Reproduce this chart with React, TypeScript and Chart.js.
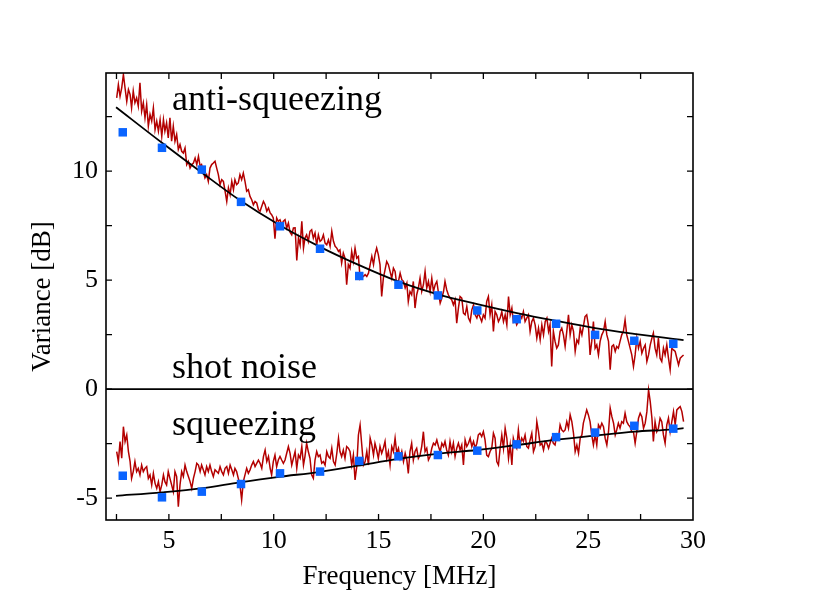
import React, { useEffect, useRef } from 'react';
import { Chart, registerables } from 'chart.js';

Chart.register(...registerables);

// Frequency grid of the measured traces (MHz)
const freq = [
  2.51, 2.59, 2.67, 2.75, 2.83, 2.91, 2.99, 3.07, 3.15, 3.22,
  3.30, 3.38, 3.46, 3.54, 3.62, 3.70, 3.78, 3.86, 3.94, 4.02,
  4.10, 4.18, 4.26, 4.34, 4.42, 4.50, 4.58, 4.66, 4.74, 4.81,
  4.89, 4.97, 5.05, 5.13, 5.21, 5.29, 5.37, 5.45, 5.53, 5.61,
  5.69, 5.77, 5.85, 5.93, 6.01, 6.09, 6.17, 6.25, 6.33, 6.41,
  6.49, 6.56, 6.64, 6.72, 6.80, 6.88, 6.96, 7.04, 7.12, 7.20,
  7.28, 7.36, 7.44, 7.52, 7.60, 7.68, 7.76, 7.84, 7.92, 8.00,
  8.08, 8.15, 8.23, 8.31, 8.39, 8.47, 8.55, 8.63, 8.71, 8.79,
  8.87, 8.95, 9.03, 9.11, 9.19, 9.27, 9.35, 9.43, 9.51, 9.59,
  9.67, 9.75, 9.83, 9.90, 9.98, 10.06, 10.14, 10.22, 10.30, 10.38,
  10.46, 10.54, 10.62, 10.70, 10.78, 10.86, 10.94, 11.02, 11.10, 11.18,
  11.26, 11.34, 11.42, 11.49, 11.57, 11.65, 11.73, 11.81, 11.89, 11.97,
  12.05, 12.13, 12.21, 12.29, 12.37, 12.45, 12.53, 12.61, 12.69, 12.77,
  12.85, 12.93, 13.01, 13.09, 13.16, 13.24, 13.32, 13.40, 13.48, 13.56,
  13.64, 13.72, 13.80, 13.88, 13.96, 14.04, 14.12, 14.20, 14.28, 14.36,
  14.44, 14.52, 14.60, 14.68, 14.76, 14.83, 14.91, 14.99, 15.07, 15.15,
  15.23, 15.31, 15.39, 15.47, 15.55, 15.63, 15.71, 15.79, 15.87, 15.95,
  16.03, 16.11, 16.19, 16.27, 16.35, 16.42, 16.50, 16.58, 16.66, 16.74,
  16.82, 16.90, 16.98, 17.06, 17.14, 17.22, 17.30, 17.38, 17.46, 17.54,
  17.62, 17.70, 17.78, 17.86, 17.94, 18.02, 18.10, 18.17, 18.25, 18.33,
  18.41, 18.49, 18.57, 18.65, 18.73, 18.81, 18.89, 18.97, 19.05, 19.13,
  19.21, 19.29, 19.37, 19.45, 19.53, 19.61, 19.69, 19.76, 19.84, 19.92,
  20.00, 20.08, 20.16, 20.24, 20.32, 20.40, 20.48, 20.56, 20.64, 20.72,
  20.80, 20.88, 20.96, 21.04, 21.12, 21.20, 21.28, 21.36, 21.43, 21.51,
  21.59, 21.67, 21.75, 21.83, 21.91, 21.99, 22.07, 22.15, 22.23, 22.31,
  22.39, 22.47, 22.55, 22.63, 22.71, 22.79, 22.87, 22.95, 23.03, 23.11,
  23.18, 23.26, 23.34, 23.42, 23.50, 23.58, 23.66, 23.74, 23.82, 23.90,
  23.98, 24.06, 24.14, 24.22, 24.30, 24.38, 24.46, 24.54, 24.62, 24.70,
  24.77, 24.85, 24.93, 25.01, 25.09, 25.17, 25.25, 25.33, 25.41, 25.49,
  25.57, 25.65, 25.73, 25.81, 25.89, 25.97, 26.05, 26.13, 26.21, 26.29,
  26.36, 26.44, 26.52, 26.60, 26.68, 26.76, 26.84, 26.92, 27.00, 27.08,
  27.16, 27.24, 27.32, 27.40, 27.48, 27.56, 27.64, 27.72, 27.80, 27.88,
  27.96, 28.04, 28.11, 28.19, 28.27, 28.35, 28.43, 28.51, 28.59, 28.67,
  28.75, 28.83, 28.91, 28.99, 29.07, 29.15, 29.23, 29.31, 29.39, 29.47,
  29.55,
];

// Measured anti-squeezing spectrum (dB)
const antiTrace = [
  13.36, 13.97, 13.43, 13.82, 14.43, 13.8, 13.2, 13.74, 13.51, 12.9,
  13.67, 13.13, 13.36, 12.98, 14.05, 12.75, 13.13, 12.44, 13.05, 12.06,
  12.6, 12.29, 12.9, 11.9, 12.29, 11.83, 12.36, 11.6, 12.36, 11.83,
  12.21, 11.52, 12.44, 11.37, 12.06, 11.37, 11.68, 10.99, 11.22, 10.91,
  10.83, 11.06, 10.3, 10.45, 10.14, 10.3, 10.37, 10.6, 10.3, 10.68,
  10.22, 10.3, 9.99, 9.69, 9.84, 9.53, 10.14, 10.3, 10.37, 10.45,
  10.14, 9.84, 9.38, 9.61, 9.53, 9.08, 8.61, 9.23, 8.92, 9.53,
  9.15, 9.61, 9.38, 9.46, 9.84, 9.61, 9.91, 9.53, 9.08, 9.15,
  8.84, 8.69, 8.46, 8.61, 8.54, 8.23, 8.16, 8.39, 8.61, 8.46,
  8.16, 8.31, 8.08, 8.0, 7.85, 6.9, 7.85, 7.7, 7.77, 7.54,
  7.7, 7.77, 7.39, 7.62, 7.2,
  7.08, 7.39, 7.4, 5.9, 6.93,
  6.6, 7.70, 6.47, 6.93, 7.08, 6.78, 7.24, 7.31, 6.93, 7.16,
  6.62, 7.08, 6.78, 6.85, 7.08, 6.70, 6.62, 6.85, 6.55, 7.24,
  6.78, 6.55, 6.47, 6.32, 6.39, 5.78, 6.24, 6.01, 4.79, 5.71,
  5.55, 6.32, 5.86, 6.47, 6.01, 6.09, 5.09, 5.25, 5.17, 5.25,
  5.17, 5.32, 5.71, 6.09, 5.71, 6.17, 6.47, 6.17, 5.71, 4.25,
  5.09, 5.47, 5.86, 5.71, 5.40, 5.09, 5.55, 5.40, 4.79, 4.94,
  5.32, 5.02, 4.94, 4.64, 4.86, 4.02, 4.48, 4.33, 4.94, 3.72,
  4.33, 4.64, 5.09, 4.48, 4.79, 5.40, 4.64, 4.94, 4.48, 5.09,
  4.48, 4.79, 4.94, 4.41, 3.95, 4.18, 4.48, 4.94, 4.56, 4.33,
  4.18, 4.10, 3.87, 4.10, 3.03, 3.72, 4.25, 4.18, 3.49, 3.41,
  3.79, 3.26, 3.10, 3.64, 3.87, 3.41, 3.26, 3.49, 3.3,
  3.10,
  3.41, 3.26, 4.02, 4.25, 3.41, 3.87, 2.65, 3.56, 3.41, 3.10,
  3.26, 3.56, 3.10, 3.41, 2.95, 4.25, 3.41, 3.72, 3.10, 3.26,
  2.95, 3.10, 3.41, 3.26, 3.56, 3.10, 3.26, 3.41, 2.65, 3.10,
  3.26, 2.95, 2.34, 2.80, 2.26, 2.95, 2.49, 3.10, 3.26, 2.65,
  2.95, 1.04, 2.65, 2.19, 1.88, 2.03, 2.65, 2.80, 2.49, 1.96,
  2.65, 3.41, 2.49, 2.95, 2.65, 1.73, 2.26, 2.11, 2.80, 2.49,
  2.87, 3.33, 3.41, 2.95, 1.57, 2.19, 3.10, 1.88, 2.03, 1.57,
  2.19, 2.49, 2.65, 3.10, 2.49, 2.19, 0.89, 1.96, 2.03, 1.73,
  1.96, 1.88, 2.19, 2.49, 2.65, 3.18, 2.49, 2.19, 1.88, 1.57,
  1.04, 1.57, 2.34, 1.88, 2.19, 1.65, 1.88, 2.03, 1.27, 1.57,
  2.03, 2.34, 2.57, 1.88, 1.57, 2.34, 1.42, 1.27, 1.88, 1.57,
  2.03, 1.42, 0.89, 1.88, 1.80, 1.73, 1.42, 1.11, 1.42, 1.50,
  1.57,
];

// Measured squeezing spectrum (dB)
const squeezeTrace = [
  -2.86, -3.32, -2.40, -3.17, -1.72, -2.40, -2.10, -2.86, -3.32, -4.09,
  -3.78, -3.32, -3.78, -3.63, -3.93, -3.48, -3.78, -3.63, -3.55, -4.09,
  -3.93, -4.39, -3.86, -4.32, -4.55, -4.24, -4.70, -4.39, -3.93, -4.24,
  -4.39, -3.78, -4.09, -4.39, -4.70, -3.78, -4.01, -5.39, -4.39, -3.78,
  -4.01, -3.48, -3.78, -4.01, -4.24, -4.55, -4.09, -3.78, -3.40, -3.48,
  -3.78, -3.48, -3.70, -3.93, -3.55, -3.78, -3.48, -3.78, -4.01, -3.70,
  -3.78, -3.86, -3.55, -3.78, -3.93, -3.63, -3.55, -3.86, -3.48, -3.70,
  -3.93, -3.63, -3.78, -4.09, -4.39, -5.08, -4.24, -3.93, -3.63, -3.86,
  -3.70, -3.48, -3.32, -3.55, -3.40, -3.25, -3.40, -3.63, -3.09, -2.79,
  -3.32, -3.09, -3.63, -3.93, -3.32, -3.02, -3.55, -3.25, -3.09, -3.25,
  -3.40, -3.25, -2.94, -2.63, -2.94,
  -3.48, -3.17, -2.86, -3.63, -3.02,
  -3.17, -2.63, -3.48, -3.09, -2.48, -2.86, -3.17, -3.93, -4.09, -3.25,
  -2.86, -3.09, -3.02, -3.40, -3.32, -3.48, -2.86, -3.09, -3.17, -2.71,
  -3.32, -3.48, -2.94, -2.25, -2.86, -3.09, -2.79, -3.17, -2.63, -2.71,
  -2.86, -3.48, -3.02, -4.16, -3.55, -2.10, -1.64, -2.56, -3.48, -3.32,
  -2.86, -3.48, -2.25, -2.56, -3.02, -2.48, -2.79, -3.17, -2.63, -2.94,
  -2.71, -2.40, -3.17, -2.86, -3.48, -2.63, -2.86, -2.25, -2.94, -2.71,
  -3.17, -2.86, -3.32, -2.94, -3.25, -3.86, -2.86, -2.48, -3.25, -2.86,
  -2.71, -3.17, -3.02, -2.63, -1.95, -2.86, -2.71, -3.25, -3.09, -2.71,
  -2.48, -2.56, -2.33, -2.63, -2.86, -2.48, -2.63, -2.40, -2.79, -3.02,
  -2.40, -2.86, -2.48, -3.09, -2.71, -2.48, -2.79, -2.56, -3.48, -2.33,
  -2.63, -2.48, -2.25, -2.63, -2.40, -2.71, -2.48, -2.10, -2.02,
  -2.17,
  -1.95, -2.33, -3.02, -3.09, -2.86, -2.71, -2.02, -2.25, -3.32, -3.48,
  -2.71, -2.10, -2.71, -1.79, -2.25, -3.17, -2.56, -3.48, -2.25, -2.56,
  -2.71, -1.87, -2.56, -2.25, -2.40, -2.10, -2.63, -2.71, -2.33, -2.02,
  -2.86, -2.63, -1.49, -1.95, -2.56, -2.48, -2.79, -2.40, -2.48, -2.71,
  -2.48, -2.25, -2.48, -2.56, -2.10, -2.25, -1.64, -1.87, -1.95, -1.87,
  -1.49, -1.79, -1.18, -1.49, -2.02, -2.86, -2.56, -2.94, -2.25, -2.10,
  -1.56, -1.26, -0.95, -1.18, -1.49, -2.10, -2.56, -2.10, -2.56, -1.64,
  -1.79, -1.56, -1.72, -2.25, -2.56, -1.95, -0.87, -1.26, -1.56, -2.10,
  -1.87, -1.56, -1.79, -1.49, -1.56, -1.10, -1.49, -1.64, -1.72, -1.95,
  -1.95, -2.48, -1.95, -1.33, -1.10, -1.26, -1.79, -1.56, -1.03, -0.03,
  -0.57, -1.33, -2.40, -1.49, -1.95, -1.79, -1.33, -1.49, -2.10, -2.48,
  -1.64, -1.33, -1.95, -1.49, -1.03, -1.64, -0.95, -0.87, -0.80, -1.03,
  -1.49,
];

// Discrete (square) measurements
const squareFreq = [2.80, 4.67, 6.57, 8.44, 10.30, 12.21, 14.08, 15.95, 17.83, 19.71, 21.59, 23.47, 25.33, 27.20, 29.06];
const antiSquares = [11.78, 11.07, 10.07, 8.59, 7.47, 6.44, 5.19, 4.79, 4.30, 3.61, 3.21, 3.00, 2.49, 2.22, 2.08];
const squeezeSquares = [-3.97, -4.96, -4.70, -4.35, -3.86, -3.78, -3.29, -3.08, -3.02, -2.82, -2.53, -2.20, -1.99, -1.68, -1.81];

// Theory curves
const fitFreq = [2.48, 4.67, 6.53, 8.39, 10.25, 12.16, 14.02, 15.93, 17.79, 19.71, 21.6, 23.42, 25.33, 27.19, 29.05, 29.55];
const antiFit = [12.93, 11.3, 9.96, 8.66, 7.54, 6.55, 5.71, 4.94, 4.36, 3.9, 3.49, 3.14, 2.8, 2.54, 2.31, 2.25];
const squeezeFit = [-4.89, -4.73, -4.55, -4.27, -4.02, -3.8, -3.51, -3.2, -2.97, -2.79, -2.56, -2.33, -2.13, -1.95, -1.84, -1.79];

// Axis ticks
const xLabelValues = [5, 10, 15, 20, 25, 30];
const yLabelValues = [-5, 0, 5, 10];
const xTickValues = [2.5, 5, 7.5, 10, 12.5, 15, 17.5, 20, 22.5, 25, 27.5];
const yTickValues = [-5, -2.5, 0, 2.5, 5, 7.5, 10, 12.5];

// Text labels inside the plot
const labelTexts = ['anti-squeezing', 'shot noise', 'squeezing'];
const labelFreq = [5.15, 5.15, 5.15];
const labelLevel = [12.82, 0.52, -2.1];

const FONT = '"Liberation Serif", "Times New Roman", Times, serif';
const RED = '#b30000';
const BLUE = '#0a64ff';

const framePlugin = {
  id: 'framePlugin',
  afterDatasetsDraw(chart: any) {
    const { ctx, chartArea } = chart;
    const xs = chart.scales.x;
    const ys = chart.scales.y;
    const { left, right, top, bottom } = chartArea;
    ctx.save();
    ctx.strokeStyle = '#000';
    ctx.lineWidth = 1.6;
    const y0 = ys.getPixelForValue(0);
    ctx.beginPath();
    ctx.moveTo(left, y0);
    ctx.lineTo(right, y0);
    ctx.stroke();
    ctx.strokeRect(left, top, right - left, bottom - top);
    ctx.lineWidth = 1.3;
    const tl = 6;
    ctx.beginPath();
    xTickValues.forEach((v) => {
      const px = xs.getPixelForValue(v);
      ctx.moveTo(px, bottom);
      ctx.lineTo(px, bottom - tl);
      ctx.moveTo(px, top);
      ctx.lineTo(px, top + tl);
    });
    yTickValues.forEach((v) => {
      const py = ys.getPixelForValue(v);
      ctx.moveTo(left, py);
      ctx.lineTo(left + tl, py);
      ctx.moveTo(right, py);
      ctx.lineTo(right - tl, py);
    });
    ctx.stroke();
    ctx.fillStyle = '#000';
    ctx.font = `36px ${FONT}`;
    ctx.textAlign = 'left';
    ctx.textBaseline = 'alphabetic';
    labelTexts.forEach((t, i) => {
      ctx.fillText(t, xs.getPixelForValue(labelFreq[i]), ys.getPixelForValue(labelLevel[i]));
    });
    ctx.restore();
  },
};

export default function App() {
  const canvasRef = useRef<HTMLCanvasElement | null>(null);

  useEffect(() => {
    document.body.style.margin = '0';
    const canvas = canvasRef.current;
    if (!canvas) return;
    const pts = (xsArr: number[], ysArr: number[]) => xsArr.map((x, i) => ({ x, y: ysArr[i] }));
    const squareStyle = {
      showLine: false,
      pointStyle: 'rect',
      pointRadius: 6,
      pointBackgroundColor: BLUE,
      pointBorderWidth: 0,
      borderColor: BLUE,
    };
    const chart = new Chart(canvas, {
      type: 'line',
      data: {
        datasets: [
          { label: 'anti squares', data: pts(squareFreq, antiSquares), ...squareStyle },
          { label: 'squeeze squares', data: pts(squareFreq, squeezeSquares), ...squareStyle },
          {
            label: 'anti fit',
            data: pts(fitFreq, antiFit),
            borderColor: '#000',
            borderWidth: 1.8,
            pointRadius: 0,
            cubicInterpolationMode: 'monotone',
          },
          {
            label: 'squeeze fit',
            data: pts(fitFreq, squeezeFit),
            borderColor: '#000',
            borderWidth: 1.8,
            pointRadius: 0,
            cubicInterpolationMode: 'monotone',
          },
          {
            label: 'anti trace',
            data: pts(freq, antiTrace),
            borderColor: RED,
            borderWidth: 1.5,
            pointRadius: 0,
            tension: 0,
          },
          {
            label: 'squeeze trace',
            data: pts(freq, squeezeTrace),
            borderColor: RED,
            borderWidth: 1.5,
            pointRadius: 0,
            tension: 0,
          },
        ],
      },
      options: {
        animation: false,
        responsive: false,
        layout: { padding: { top: 73, right: 124, left: 0, bottom: 0 } },
        plugins: { legend: { display: false }, tooltip: { enabled: false } },
        scales: {
          x: {
            type: 'linear',
            position: 'bottom',
            min: 2,
            max: 30,
            afterFit: (s: any) => { s.height = 92; },
            afterBuildTicks: (s: any) => { s.ticks = xLabelValues.map((v) => ({ value: v })); },
            grid: { display: false, drawTicks: false },
            border: { display: false },
            ticks: {
              autoSkip: false,
              maxRotation: 0,
              padding: 6,
              color: '#000',
              font: { family: FONT, size: 26 },
              callback: (v: any) => String(v),
            },
            title: {
              display: true,
              text: 'Frequency [MHz]',
              color: '#000',
              font: { family: FONT, size: 27 },
              padding: { top: 0, bottom: 19 },
            },
          },
          y: {
            type: 'linear',
            position: 'left',
            min: -6,
            max: 14.5,
            afterFit: (s: any) => { s.width = 106; },
            afterBuildTicks: (s: any) => { s.ticks = yLabelValues.map((v) => ({ value: v })); },
            grid: { display: false, drawTicks: false },
            border: { display: false },
            ticks: {
              autoSkip: false,
              padding: 8,
              color: '#000',
              font: { family: FONT, size: 26 },
              callback: (v: any) => String(v),
            },
            title: {
              display: true,
              text: 'Variance [dB]',
              color: '#000',
              font: { family: FONT, size: 27 },
              padding: { top: 27, bottom: 0 },
            },
          },
        },
      },
      plugins: [framePlugin],
    } as any);
    return () => chart.destroy();
  }, []);

  return (
    <div style={{ position: 'absolute', left: 0, top: 0, width: 817, height: 612, background: '#fff' }}>
      <canvas ref={canvasRef} width={817} height={612} style={{ display: 'block' }} />
    </div>
  );
}
